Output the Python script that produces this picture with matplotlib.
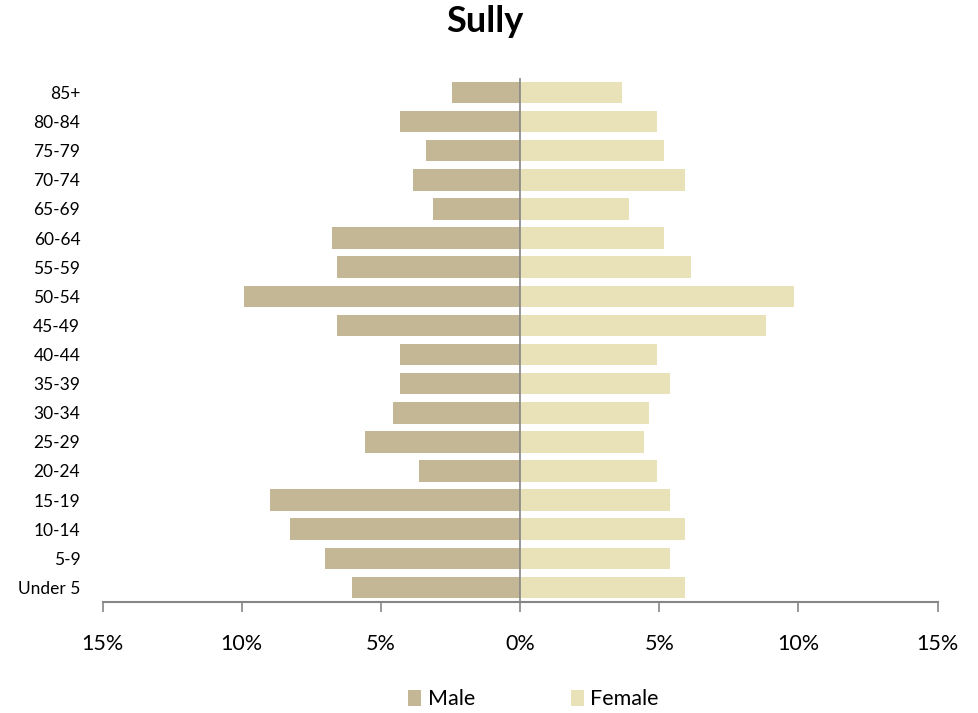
import matplotlib
matplotlib.use("Agg")
import matplotlib.pyplot as plt
import numpy as np
from matplotlib.ticker import FuncFormatter

plt.rcParams['font.family'] = ['Lato', 'DejaVu Sans']

# Age groups (bottom to top)
AGE_GROUPS = ['Under 5', '5-9', '10-14', '15-19', '20-24', '25-29', '30-34', '35-39',
              '40-44', '45-49', '50-54', '55-59', '60-64', '65-69', '70-74', '75-79',
              '80-84', '85+']

# Share of population (%)
MALE = [6.04, 7.01, 8.26, 8.98, 3.62, 5.57, 4.58, 4.33, 4.33, 6.56, 9.90, 6.56, 6.76,
        3.14, 3.86, 3.39, 4.33, 2.43]
FEMALE = [5.91, 5.37, 5.91, 5.37, 4.92, 4.45, 4.65, 5.37, 4.92, 8.85, 9.84, 6.15, 5.17,
          3.93, 5.91, 5.17, 4.92, 3.68]

X_TICKS = [-15, -10, -5, 0, 5, 10, 15]

MALE_COLOR = '#C4B796'
FEMALE_COLOR = '#E9E1B7'

fig = plt.figure(figsize=(9.79, 7.13), dpi=100)
ax = fig.add_axes([0.1047, 0.1557, 0.853, 0.735])

y = np.arange(len(AGE_GROUPS))
ax.barh(y, -np.array(MALE), height=0.74, color=MALE_COLOR, label='Male')
ax.barh(y, FEMALE, height=0.74, color=FEMALE_COLOR, label='Female')

ax.axvline(0, color='#868686', linewidth=1.2)

ax.set_xlim(-15, 15)
ax.set_ylim(-0.5, len(AGE_GROUPS) - 0.5)
ax.set_xticks(X_TICKS)
ax.xaxis.set_major_formatter(FuncFormatter(lambda v, p: f'{abs(v):.0f}%'))
ax.set_yticks(y)
ax.set_yticklabels(AGE_GROUPS)

for s in ['top', 'left', 'right']:
    ax.spines[s].set_visible(False)
ax.spines['bottom'].set_color('#868686')
ax.spines['bottom'].set_linewidth(1.5)

ax.tick_params(axis='x', length=7, width=1.2, color='#868686', labelsize=15.5, pad=16)
ax.tick_params(axis='y', length=0, labelsize=12.5, pad=16)

fig.suptitle('Sully', fontsize=26, fontweight='bold', x=0.495, y=0.993)

fig.legend(loc='lower center', ncol=2, frameon=False, fontsize=15.5,
           bbox_to_anchor=(0.545, -0.022), handlelength=0.6, handleheight=0.8,
           handletextpad=0.3, columnspacing=4.45)

plt.savefig('out.png', dpi=100)
